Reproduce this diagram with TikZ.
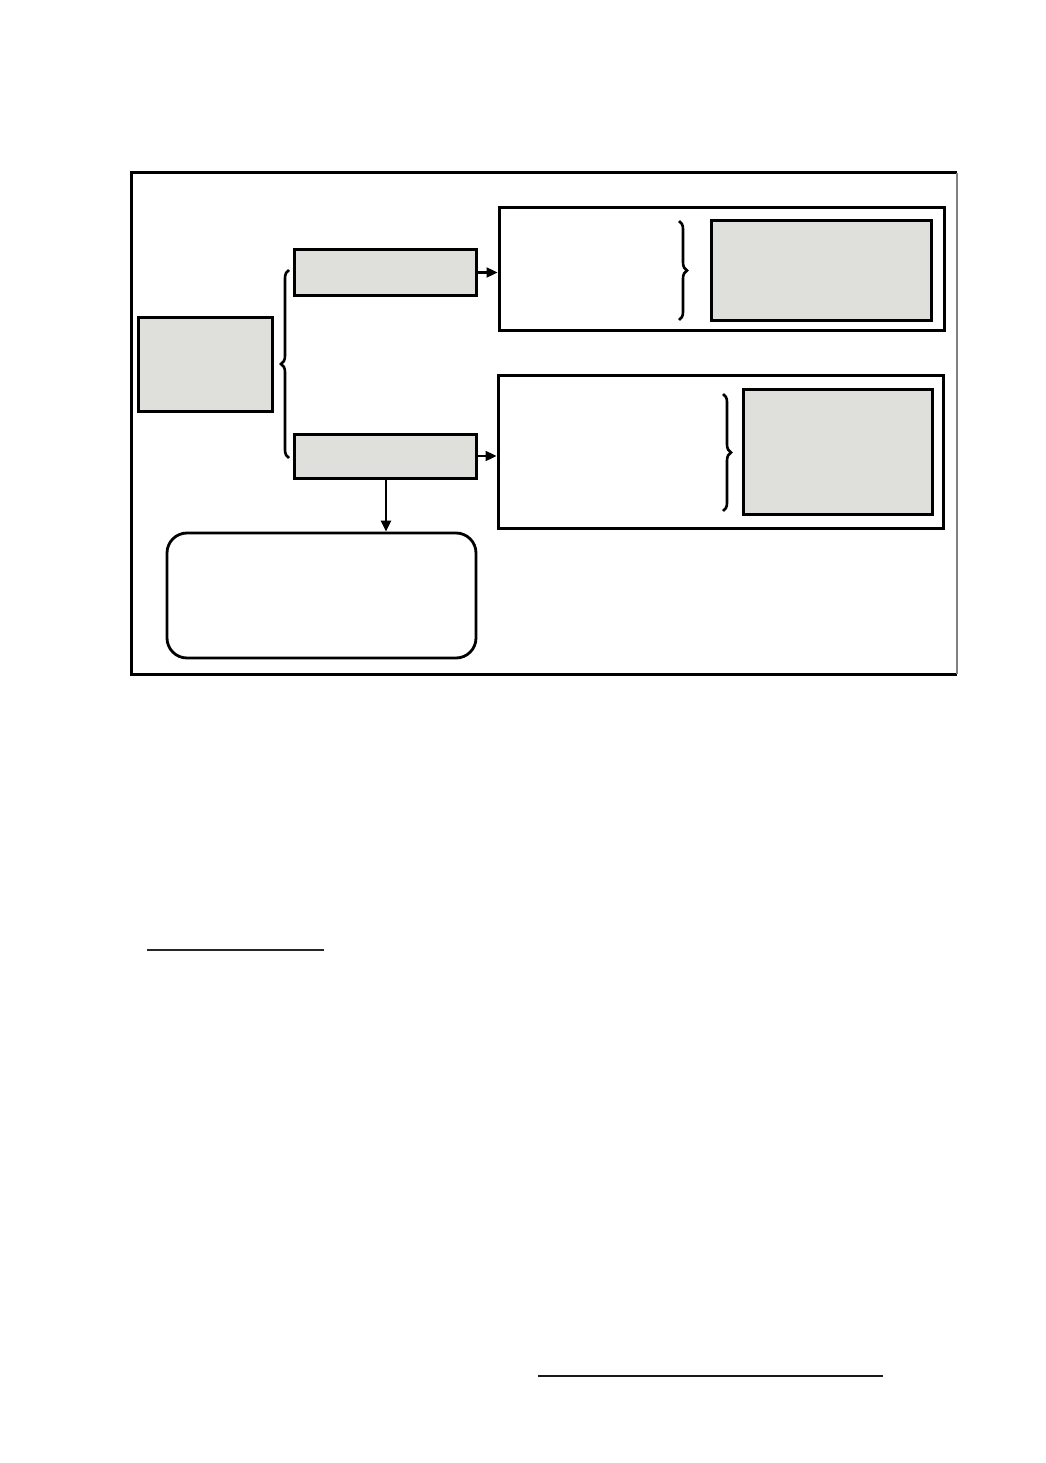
\documentclass[tikz,border=0pt]{standalone}
\usetikzlibrary{decorations.pathreplacing,arrows.meta}
\definecolor{boxgray}{HTML}{DFDFDB}
\tikzset{
  graybox/.style={draw=black, fill=boxgray, line width=3pt, inner sep=0pt},
  whitebox/.style={draw=black, fill=white, line width=3pt, inner sep=0pt},
  roundbox/.style={draw=black, fill=white, line width=2.8pt, rounded corners=20pt, inner sep=0pt},
  conn/.style={line width=2.3pt, -{Triangle[length=11pt,width=10pt]}},
  bracestyle/.style={line width=2.6pt, decorate, decoration={brace, amplitude=8pt}},
}
\begin{document}
\begin{tikzpicture}[x=1pt,y=-1pt]
\useasboundingbox (0,0) rectangle (1045,1463);
% outer frame
\draw[line width=3pt] (957,173) -- (131,173) -- (131,674) -- (957,674);
\draw[line width=1.2pt, gray] (957,173) -- (957,674);
% nodes
\node[graybox, minimum width=134pt, minimum height=94pt] (A) at (205,364) {};
\node[graybox, minimum width=182pt, minimum height=45pt] (B) at (385,272.5) {};
\node[graybox, minimum width=182pt, minimum height=44pt] (C) at (385,456) {};
\node[whitebox, minimum width=445pt, minimum height=122pt] (D) at (721.5,269) {};
\node[graybox, minimum width=220pt, minimum height=99pt] (D2) at (821,270.5) {};
\node[whitebox, minimum width=445pt, minimum height=153pt] (E) at (720.5,451.5) {};
\node[graybox, minimum width=189pt, minimum height=125pt] (E2) at (837.5,451.5) {};
\node[roundbox, minimum width=309pt, minimum height=125pt] (F) at (321.5,595.5) {};
% braces
\draw[bracestyle] (289,458) -- (289,270);
\draw[bracestyle] (679,221) -- (679,320);
\draw[bracestyle] (723,394) -- (723,511);
% connectors
\draw[conn] (B.east) -- (D.west |- B.east);
\draw[conn] (C.east) -- (E.west |- C.east);
\draw[conn] (C.south -| 386,0) -- (F.north -| 386,0);
% lines below
\draw[line width=2.2pt, black!85] (147,950) -- (324,950);
\draw[line width=1.6pt, black!90] (538,1376) -- (883,1376);
\end{tikzpicture}
\end{document}
